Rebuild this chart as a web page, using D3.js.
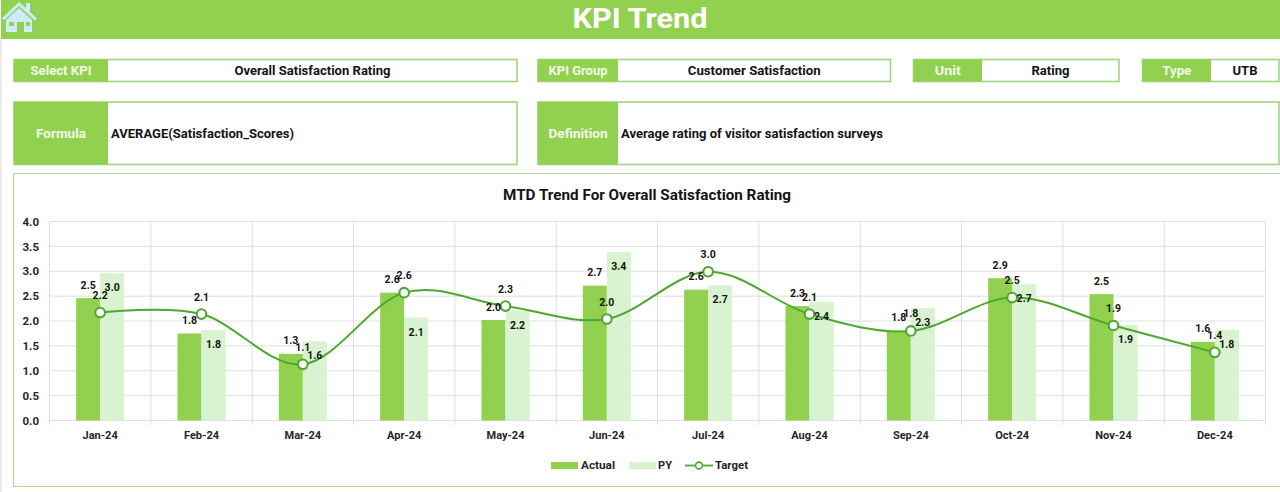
<!DOCTYPE html>
<html>
<head>
<meta charset="utf-8">
<script src="https://cdn.jsdelivr.net/npm/d3@7/dist/d3.min.js"></script>
<style>
html,body{margin:0;padding:0;background:#fff;overflow:hidden}
svg{display:block}
text{font-family:Roboto,sans-serif;font-weight:700}
</style>
</head>
<body>
<svg id="c" width="1280" height="492"></svg>
<script>
const months = ["Jan-24","Feb-24","Mar-24","Apr-24","May-24","Jun-24","Jul-24","Aug-24","Sep-24","Oct-24","Nov-24","Dec-24"];
const actual = [2.46,1.75,1.34,2.57,2.02,2.71,2.63,2.30,1.80,2.86,2.54,1.58];
const py     = [2.96,1.82,1.59,2.07,2.21,3.39,2.72,2.39,2.26,2.74,1.92,1.82];
const target = [2.17,2.14,1.13,2.57,2.30,2.04,2.99,2.14,1.80,2.47,1.91,1.37];
const yTicks = [0,0.5,1,1.5,2,2.5,3,3.5,4];
const chartTitle = "MTD Trend For Overall Satisfaction Rating";
const pageTitle = "KPI Trend";
const infoLabels = ["Select KPI","KPI Group","Unit","Type","Formula","Definition"];
const infoValues = ["Overall Satisfaction Rating","Customer Satisfaction","Rating","UTB","AVERAGE(Satisfaction_Scores)","Average rating of visitor satisfaction surveys"];
const legendNames = ["Actual","PY","Target"];

const GREEN="#92D050", BORDER="#A0D67A", FRAME="#ADDB8E", PALE="#D9F2D0", LINE="#4EA72E", INK="#141414";
const svg=d3.select("#c");

// header
svg.append("rect").attr("x",1).attr("y",0).attr("width",1279).attr("height",39).attr("fill",GREEN);
svg.append("rect").attr("x",0).attr("y",39).attr("width",1.5).attr("height",453).attr("fill","#E6E6E6");
svg.append("text").attr("x",640).attr("y",28).attr("text-anchor","middle").attr("fill","#fff")
  .attr("font-size",28).attr("textLength",135).attr("lengthAdjust","spacingAndGlyphs").text(pageTitle);

// home icon
const icon=svg.append("g").attr("fill","#CDEBFB");
icon.append("path").attr("d","M2 18 L19 2 L26 8 L26 3 L30 3 L30 12 L37 18.5 L35 20.5 L19 6 L4 20.5 Z");
icon.append("path").attr("fill-rule","evenodd").attr("d","M6 20 L19 8 L32 20 L32 32 L24 32 L24 22 L17 22 L17 32 L6 32 Z M9 22 L9 26 L14 26 L14 22 Z M26 22 L26 26 L30 26 L30 22 Z");

// info boxes
const boxes=[
 {x:14,y:59.5,w:503,h:22,lw:94,ta:"middle",tw:156},
 {x:538,y:59.5,w:352.5,h:22,lw:80,ta:"middle",tw:133},
 {x:913.5,y:59.5,w:205.5,h:22,lw:68.5,ta:"middle",tw:38},
 {x:1142.5,y:59.5,w:136.5,h:22,lw:68.5,ta:"middle",tw:25},
 {x:14,y:102,w:503,h:62.5,lw:94,ta:"start",tw:183},
 {x:538,y:102,w:741,h:62.5,lw:80,ta:"start",tw:262}
];
const labelWidths=[61,59,26,29,50,59];
boxes.forEach((b,i)=>{
  svg.append("rect").attr("x",b.x).attr("y",b.y).attr("width",b.w).attr("height",b.h)
    .attr("fill","#fff").attr("stroke",BORDER).attr("stroke-width",1.6);
  svg.append("rect").attr("x",b.x).attr("y",b.y).attr("width",b.lw).attr("height",b.h).attr("fill",GREEN);
  svg.append("text").attr("x",b.x+b.lw/2).attr("y",b.y+b.h/2+4.5).attr("text-anchor","middle")
    .attr("fill","#F2FAE6").attr("font-size",13).attr("textLength",labelWidths[i]).attr("lengthAdjust","spacingAndGlyphs").text(infoLabels[i]);
  const vx=b.ta==="middle"?b.x+b.lw+(b.w-b.lw)/2:b.x+b.lw+3;
  svg.append("text").attr("x",vx).attr("y",b.y+b.h/2+4.5).attr("text-anchor",b.ta)
    .attr("fill",INK).attr("font-size",13).attr("textLength",b.tw).attr("lengthAdjust","spacingAndGlyphs").text(infoValues[i]);
});

// chart frame
svg.append("rect").attr("x",13.5).attr("y",173.5).attr("width",1270).attr("height",313)
  .attr("fill","#fff").attr("stroke",FRAME).attr("stroke-width",1);
svg.append("text").attr("x",647).attr("y",200).attr("text-anchor","middle").attr("fill",INK)
  .attr("font-size",15.5).attr("textLength",288).attr("lengthAdjust","spacingAndGlyphs").text(chartTitle);

// scales
const x=d3.scaleBand().domain(months).range([49.5,1265.5]);
const inner=d3.scaleBand().domain(["actual","py"]).range([x.bandwidth()/2-24,x.bandwidth()/2+24]);
const y=d3.scaleLinear().domain([0,4]).range([420.5,221.5]);
const cx=m=>x(m)+x.bandwidth()/2;

// gridlines
svg.append("g").selectAll("line").data(yTicks).join("line")
  .attr("x1",49.5).attr("x2",1265.5).attr("y1",d=>y(d)).attr("y2",d=>y(d)).attr("stroke","#DEDEDE").attr("stroke-width",1);
const edges=months.map(m=>x(m)).concat([1265.5]);
svg.append("g").selectAll("line").data(edges).join("line")
  .attr("x1",d=>d).attr("x2",d=>d).attr("y1",y(4)).attr("y2",y(0)+4.5).attr("stroke","#DEDEDE").attr("stroke-width",1);

// axes
const ay=svg.append("g").attr("transform","translate(50,0)")
  .call(d3.axisLeft(y).tickValues(yTicks).tickFormat(d3.format(".1f")).tickSize(0).tickPadding(11));
const ax=svg.append("g").attr("transform",`translate(0,${y(0)})`)
  .call(d3.axisBottom(x).tickSize(0).tickPadding(11));
[ay,ax].forEach(a=>{a.select(".domain").remove();
  a.selectAll("text").attr("font-size",11).attr("fill","#262626").style("font-family","Roboto,sans-serif").style("font-weight",700);});
ay.selectAll("text").attr("font-size",11.5);

// bars
const rows=months.map((m,i)=>({m,a:actual[i],p:py[i],t:target[i]}));
svg.append("g").selectAll("rect").data(rows).join("rect")
  .attr("x",d=>x(d.m)+inner("actual")).attr("width",inner.bandwidth())
  .attr("y",d=>y(d.a)).attr("height",d=>y(0)-y(d.a)).attr("fill",GREEN);
svg.append("g").selectAll("rect").data(rows).join("rect")
  .attr("x",d=>x(d.m)+inner("py")).attr("width",inner.bandwidth())
  .attr("y",d=>y(d.p)).attr("height",d=>y(0)-y(d.p)).attr("fill",PALE);

// target line
const line=d3.line().x(d=>cx(d.m)).y(d=>y(d.t)).curve(d3.curveCatmullRom.alpha(0));
svg.append("path").datum(rows).attr("d",line).attr("fill","none").attr("stroke",LINE).attr("stroke-width",2);
svg.append("g").selectAll("circle").data(rows).join("circle")
  .attr("cx",d=>cx(d.m)).attr("cy",d=>y(d.t)).attr("r",4.8)
  .attr("fill","#fff").attr("stroke",LINE).attr("stroke-width",2.1);

// value labels
const fmt=d3.format(".1f");
function labels(key,xf,dy){
  svg.append("g").selectAll("text").data(rows).join("text")
    .attr("x",xf).attr("y",d=>y(d[key])+dy).attr("text-anchor","middle")
    .attr("font-size",10.5).attr("fill",INK).text(d=>fmt(d[key]));
}
labels("a",d=>x(d.m)+inner("actual")+inner.bandwidth()/2,-9.5);
labels("p",d=>x(d.m)+inner("py")+inner.bandwidth()/2,18);
labels("t",d=>cx(d.m),-13.5);

// legend
const lg=svg.append("g");
lg.append("rect").attr("x",551).attr("y",462).attr("width",27).attr("height",7).attr("fill",GREEN);
lg.append("rect").attr("x",629).attr("y",462).attr("width",27).attr("height",7).attr("fill",PALE);
lg.append("line").attr("x1",685).attr("x2",713).attr("y1",465.5).attr("y2",465.5).attr("stroke",LINE).attr("stroke-width",1.8);
lg.append("circle").attr("cx",699).attr("cy",465.5).attr("r",3.4).attr("fill","#fff").attr("stroke",LINE).attr("stroke-width",1.6);
[[581,34],[658,14],[715,33]].forEach(([lx,w],i)=>{
  lg.append("text").attr("x",lx).attr("y",469).attr("font-size",11.5).attr("fill","#262626")
    .attr("textLength",w).attr("lengthAdjust","spacingAndGlyphs").text(legendNames[i]);
});
</script>
</body>
</html>
